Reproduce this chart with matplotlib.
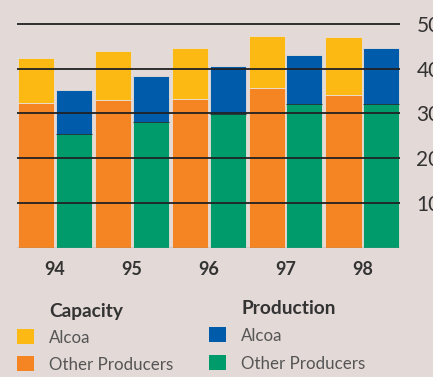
import matplotlib
matplotlib.use("Agg")
import matplotlib.pyplot as plt
import numpy as np
from matplotlib.patches import Rectangle

years = ["94", "95", "96", "97", "98"]
cap_other = [32.3, 33.1, 33.3, 35.7, 34.1]
cap_alcoa = [10.2, 10.9, 11.4, 11.7, 13.0]
prod_other = [25.3, 28.0, 29.9, 32.2, 32.0]
prod_alcoa = [10.0, 10.4, 10.8, 10.9, 12.6]
yticks = [10, 20, 30, 40, 50]
ytick_labels = ["10", "20", "30", "40", "50"]

BG = "#E3D9D6"
YEL = "#FDB913"
ORA = "#F58423"
BLU = "#005BAA"
GRN = "#009B6A"
TXT = "#333333"

plt.rcParams['font.family'] = ['Lato', 'DejaVu Sans']

fig = plt.figure(figsize=(4.33, 3.77), dpi=100, facecolor=BG)
ax = fig.add_axes([16.7/433, 129.5/377, (400-16.7)/433, 51*4.47/377])
ax.set_facecolor(BG)

x = np.arange(len(years))
w = 0.47
off = 0.245
ax.bar(x - off, cap_other, w, color=ORA, edgecolor="#EADFD8", linewidth=0.6, zorder=2)
ax.bar(x - off, cap_alcoa, w, bottom=cap_other, color=YEL, edgecolor="#EADFD8", linewidth=0.6, zorder=2)
ax.bar(x + off, prod_other, w, color=GRN, edgecolor="#EADFD8", linewidth=0.6, zorder=2)
ax.bar(x + off, prod_alcoa, w, bottom=prod_other, color=BLU, edgecolor="#EADFD8", linewidth=0.6, zorder=2)
ax.hlines(prod_other, x + off - w/2, x + off + w/2, color="#1a3a3a", linewidth=0.7, zorder=3)

for t in yticks:
    ax.axhline(t, color="#222222", linewidth=1.3, zorder=4)
ax.axhline(0, color="#8a8a8a", linewidth=1.0, zorder=4)

ax.set_xlim(-0.5, 4.49)
ax.set_ylim(0, 51)
for s in ax.spines.values():
    s.set_visible(False)

ax.yaxis.tick_right()
ax.set_yticks(yticks)
ax.set_yticklabels(ytick_labels, fontsize=15, color=TXT)
for lab in ax.get_yticklabels():
    lab.set_horizontalalignment("left")
ax.tick_params(axis="y", length=0, pad=11.8)

ax.set_xticks(x)
ax.set_xticklabels(years, fontsize=13, fontweight="bold", color=TXT)
ax.tick_params(axis="x", length=0, pad=10)

# Legend
def px(xp, yp):
    return xp/433, 1 - yp/377

fig.text(*px(49, 311), "Capacity", fontsize=13.8, fontweight="bold", color=TXT, va="center", ha="left")
fig.text(*px(241, 309), "Production", fontsize=13.8, fontweight="bold", color=TXT, va="center", ha="left")
entries = [(17, 329, YEL, "Alcoa"), (17, 356, ORA, "Other Producers"),
           (209, 327, BLU, "Alcoa"), (209, 355, GRN, "Other Producers")]
for xs, ys, c, lab in entries:
    fig.patches.append(Rectangle(px(xs, ys + 15), 17/433, 15/377, transform=fig.transFigure,
                                 facecolor=c, edgecolor="none"))
    fig.text(*px(xs + 32, ys + 9), lab, fontsize=12.2, color="#555555", va="center", ha="left")

fig.savefig("out.png", dpi=100, facecolor=BG)
